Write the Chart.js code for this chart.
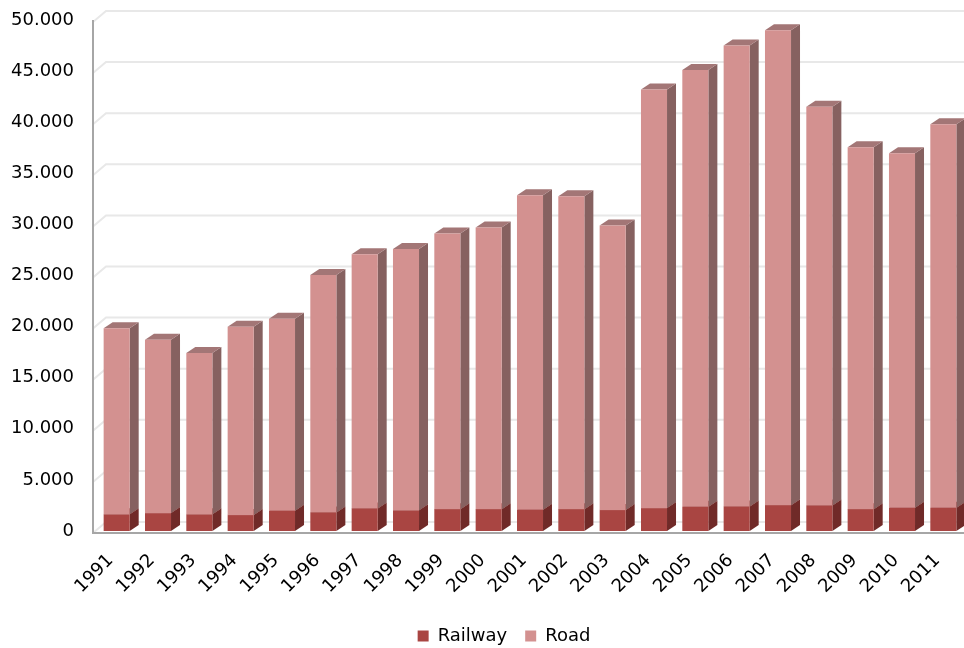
<!DOCTYPE html>
<html>
<head>
<meta charset="utf-8">
<script src="https://cdn.jsdelivr.net/npm/chart.js@4"></script>
<style>
  html, body { margin: 0; padding: 0; background: #ffffff; }
  #wrap { width: 964px; height: 648px; position: relative; }
</style>
</head>
<body>
<div id="wrap"><canvas id="c"></canvas></div>
<script>
const years = ['1991','1992','1993','1994','1995','1996','1997','1998','1999','2000','2001','2002','2003','2004','2005','2006','2007','2008','2009','2010','2011'];
const railway = [1630,1750,1630,1560,1980,1820,2210,2020,2140,2140,2080,2140,2050,2240,2370,2400,2530,2500,2140,2270,2270];
const road = [18220,16960,15790,18420,18780,23230,24860,25580,26960,27560,30770,30610,27850,40960,42730,45100,46470,39000,35410,34700,37530];
const yTicksMax = 50000;
const yTickStep = 5000;

const frontColors = ['#A94542', '#D39190'];
const sideColors = ['#702A28', '#866160'];
const capColors = ['#8C3532', '#A37676'];
const FONT = 'DejaVu Sans';

const depth = { dx: 9, dy: -6 };
const wall = { dx: 13, dy: -11 };

function fmt(v) {
  return String(v).replace(/\B(?=(\d{3})+(?!\d))/g, '.');
}

const threeD = {
  id: 'threeD',
  beforeLayout(chart) {
    const lg = chart.legend;
    if (lg && !lg._wrapped) {
      const f = lg.fit.bind(lg);
      lg.fit = function () { f(); this.height = 39; };
      lg._wrapped = true;
    }
  },
  afterLayout(chart) {
    const lg = chart.legend;
    if (lg) { lg.left += 22; lg.right += 22; }
  },
  beforeDatasetsDraw(chart) {
    const { ctx, chartArea: a, scales: { y } } = chart;
    ctx.save();
    ctx.strokeStyle = '#e8e8e8';
    ctx.lineWidth = 2;
    y.ticks.forEach(t => {
      const py = y.getPixelForValue(t.value) + 2;
      ctx.beginPath();
      ctx.moveTo(a.left - 3, py);
      ctx.lineTo(a.left - 3 + wall.dx, py + wall.dy);
      ctx.lineTo(chart.width, py + wall.dy);
      ctx.stroke();
    });
    chart.data.datasets.forEach((ds, i) => {
      const meta = chart.getDatasetMeta(i);
      meta.data.forEach(bar => {
        const p = bar.getProps(['x', 'y', 'base', 'width'], true);
        const l = p.x - p.width / 2, r = p.x + p.width / 2;
        const top = Math.min(p.y, p.base), bot = Math.max(p.y, p.base);
        ctx.fillStyle = sideColors[i];
        ctx.beginPath();
        ctx.moveTo(r, top);
        ctx.lineTo(r + depth.dx, top + depth.dy);
        ctx.lineTo(r + depth.dx, bot + depth.dy);
        ctx.lineTo(r, bot);
        ctx.closePath();
        ctx.fill();
        ctx.fillStyle = capColors[i];
        ctx.beginPath();
        ctx.moveTo(l, top);
        ctx.lineTo(l + depth.dx, top + depth.dy);
        ctx.lineTo(r + depth.dx, top + depth.dy);
        ctx.lineTo(r, top);
        ctx.closePath();
        ctx.fill();
      });
    });
    ctx.restore();
  },
  afterDatasetsDraw(chart) {
    const { ctx, chartArea: a } = chart;
    ctx.save();
    ctx.strokeStyle = '#a6a6a6';
    ctx.lineWidth = 2;
    ctx.beginPath();
    ctx.moveTo(a.left - 3, a.top);
    ctx.lineTo(a.left - 3, a.bottom + 3);
    ctx.moveTo(a.left - 4, a.bottom + 2);
    ctx.lineTo(chart.width, a.bottom + 2);
    ctx.stroke();
    ctx.restore();
  }
};

new Chart(document.getElementById('c'), {
  type: 'bar',
  data: {
    labels: years,
    datasets: [
      { label: 'Railway', data: railway, backgroundColor: frontColors[0], borderWidth: 0 },
      { label: 'Road', data: road, backgroundColor: frontColors[1], borderWidth: 0 }
    ]
  },
  options: {
    responsive: true,
    maintainAspectRatio: false,
    animation: false,
    devicePixelRatio: 1,
    layout: { padding: { top: 20, right: 0, bottom: 0, left: 0 } },
    datasets: { bar: { categoryPercentage: 1.0, barPercentage: 0.63 } },
    scales: {
      x: {
        stacked: true,
        grid: { display: false, drawTicks: false },
        border: { display: false },
        ticks: {
          autoSkip: false, maxRotation: 45, minRotation: 45, padding: 19, labelOffset: -6,
          color: '#000', font: { family: FONT, size: 18 }
        },
        afterFit(scale) { scale.height = 78; scale.paddingLeft = 0; scale.paddingRight = 0; }
      },
      y: {
        stacked: true,
        min: 0, max: yTicksMax,
        grid: { display: false, drawTicks: false },
        border: { display: false },
        ticks: {
          stepSize: yTickStep, padding: 22,
          color: '#000', font: { family: FONT, size: 18 },
          callback: v => fmt(v)
        },
        afterFit(scale) { scale.width = 96; scale.paddingTop = 0; scale.paddingBottom = 0; }
      }
    },
    plugins: {
      legend: {
        position: 'bottom',
        labels: {
          boxWidth: 11, boxHeight: 11, padding: 18,
          color: '#000', font: { family: FONT, size: 18 }
        }
      },
      tooltip: { enabled: false }
    }
  },
  plugins: [threeD]
});
</script>
</body>
</html>
